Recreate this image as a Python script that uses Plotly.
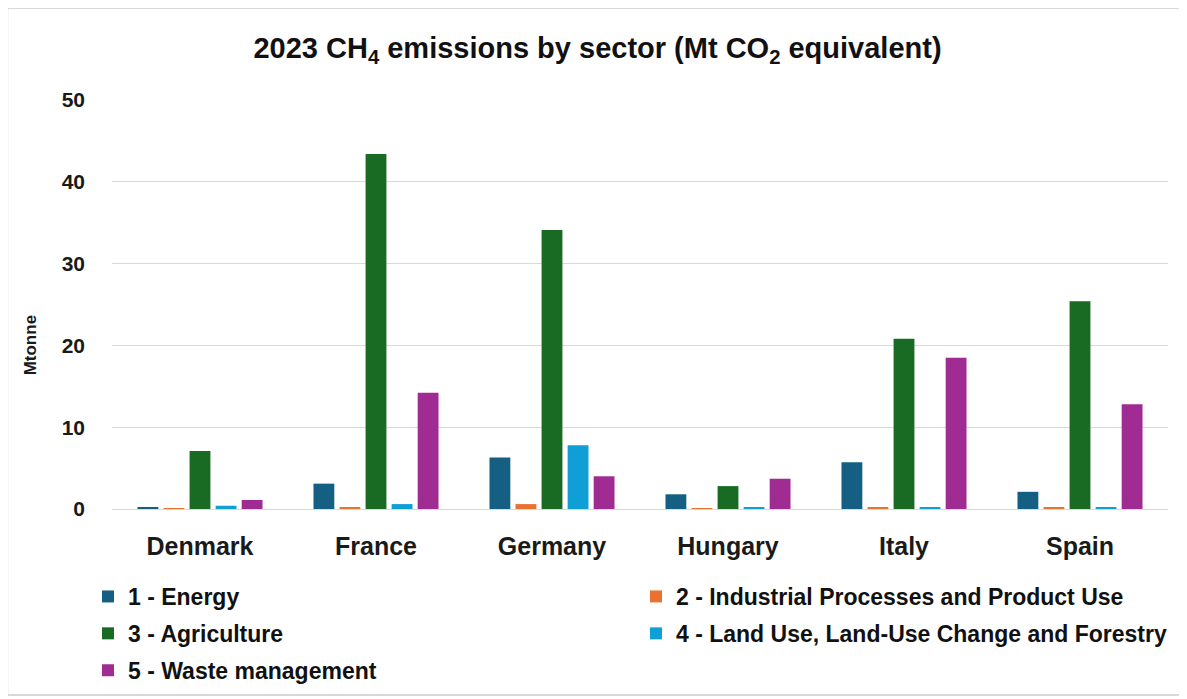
import plotly.graph_objects as go

countries = ["Denmark", "France", "Germany", "Hungary", "Italy", "Spain"]
sectors = [
    "1 - Energy",
    "2 - Industrial Processes and Product Use",
    "3 - Agriculture",
    "4 - Land Use, Land-Use Change and Forestry",
    "5 - Waste management",
]
energy = [0.2, 3.1, 6.3, 1.8, 5.7, 2.1]
ippu = [0.1, 0.2, 0.6, 0.1, 0.2, 0.2]
agriculture = [7.1, 43.4, 34.1, 2.8, 20.8, 25.4]
lulucf = [0.4, 0.6, 7.8, 0.2, 0.2, 0.2]
waste = [1.1, 14.2, 4.0, 3.7, 18.5, 12.8]
colors = ["#156082", "#E97132", "#196B24", "#0F9ED5", "#A02B93"]
legend_slots = ["legend", "legend2", "legend", "legend2", "legend"]

series = [energy, ippu, agriculture, lulucf, waste]

fig = go.Figure()
for name, vals, col, lg in zip(sectors, series, colors, legend_slots):
    fig.add_trace(go.Bar(x=countries, y=vals, name="<b>" + name + "</b>", marker_color=col,
                         marker_line_width=0, legend=lg, legendgroup=name))

base = "Liberation Sans, Arial, sans-serif"
W, H = 1179, 691  # page is offset by the 8px body margin
leg_common = dict(orientation="v", xref="container", yref="container",
                  xanchor="left", yanchor="top", traceorder="grouped",
                  tracegroupgap=4, itemwidth=30, bgcolor="rgba(0,0,0,0)",
                  font=dict(family=base, size=23, color="#111111"))
fig.update_layout(
    width=W, height=H,
    paper_bgcolor="white", plot_bgcolor="white",
    margin=dict(l=104, r=19, t=92, b=190, autoexpand=False),
    barmode="group", bargap=0.26, bargroupgap=0.2,
    title=dict(text="<b>2023 CH<sub>4</sub> emissions by sector (Mt CO<sub>2</sub> equivalent)</b>",
               x=0.5, xanchor="center", y=1 - 40 / H, yanchor="middle",
               font=dict(family=base, size=29, color="#111111")),
    font=dict(family=base, color="#222222"),
    yaxis=dict(range=[0, 50], dtick=10, showgrid=True, gridcolor="#D9D9D9", gridwidth=1,
               zeroline=True, zerolinecolor="#D9D9D9", zerolinewidth=1,
               tickfont=dict(size=21, family=base, color="#1a1a1a"),
               tickprefix="<b>", ticksuffix="</b>", ticklabelstandoff=26),
    xaxis=dict(showgrid=False, showline=False,
               tickfont=dict(size=25, family=base, color="#1a1a1a"),
               tickprefix="<b>", ticksuffix="</b>", ticklabelstandoff=20),
    legend=dict(leg_common, x=(88 - 8) / W, y=1 - (575 - 8) / H),
    legend2=dict(leg_common, x=(636 - 8) / W, y=1 - (575 - 8) / H),
    annotations=[dict(text="<b>Mtonne</b>", xref="paper", yref="paper",
                      x=-0.0777, y=0.40, xanchor="center", yanchor="middle",
                      textangle=-90, showarrow=False,
                      font=dict(family=base, size=17, color="#1a1a1a"))],
    shapes=[dict(type="rect", xref="paper", yref="paper",
                 x0=-0.099, x1=1.0135, y0=-0.455, y1=1.225,
                 line=dict(color="#CCCCCC", width=1.5), fillcolor="rgba(0,0,0,0)",
                 layer="below")],
)

fig.write_html("out.html")
